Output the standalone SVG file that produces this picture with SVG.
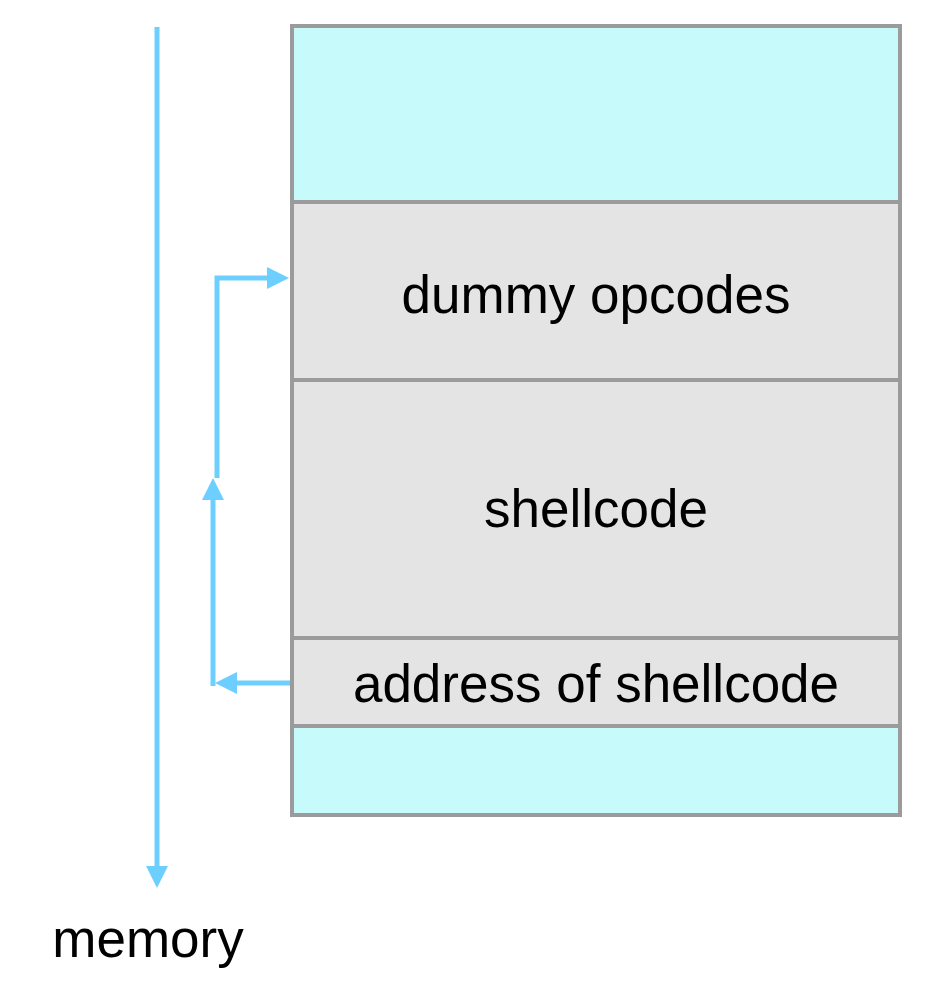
<svg xmlns="http://www.w3.org/2000/svg" width="926" height="1004" viewBox="0 0 926 1004">
  <style>
    .cell { stroke: #9b9b9b; stroke-width: 4; }
    .cyan { fill: #c7fafa; }
    .grey { fill: #e4e4e4; }
    .lbl { font-family: "Liberation Sans", Arial, sans-serif; font-size: 53px; fill: #000; }
    .conn { fill: none; stroke: #6ccfff; stroke-width: 5; }
  </style>
  <defs>
    <marker id="head" markerUnits="userSpaceOnUse" markerWidth="22" markerHeight="22" refX="0" refY="11" orient="auto">
      <path d="M0,0 L22,11 L0,22 z" fill="#6ccfff"/>
    </marker>
  </defs>
  <rect x="0" y="0" width="926" height="1004" fill="#ffffff"/>
  <g id="stack">
    <g id="top-region">
      <rect class="cell cyan" x="292" y="26" width="608" height="176"/>
    </g>
    <g id="dummy-opcodes">
      <rect class="cell grey" x="292" y="202" width="608" height="178"/>
      <text class="lbl" x="596" y="313" text-anchor="middle">dummy opcodes</text>
    </g>
    <g id="shellcode">
      <rect class="cell grey" x="292" y="380" width="608" height="258"/>
      <text class="lbl" x="596" y="527" text-anchor="middle">shellcode</text>
    </g>
    <g id="address">
      <rect class="cell grey" x="292" y="638" width="608" height="88"/>
      <text class="lbl" x="596" y="702" text-anchor="middle">address of shellcode</text>
    </g>
    <g id="bottom-region">
      <rect class="cell cyan" x="292" y="726" width="608" height="89"/>
    </g>
  </g>
  <g id="memory-label">
    <text class="lbl" x="148" y="957" text-anchor="middle">memory</text>
  </g>
  <g id="connectors">
    <path class="conn" d="M157,27 V866" marker-end="url(#head)"/>
    <path class="conn" d="M290,683 H237" marker-end="url(#head)"/>
    <path class="conn" d="M213,686 V500" marker-end="url(#head)"/>
    <path class="conn" d="M217,478 V278 H267" marker-end="url(#head)"/>
  </g>
</svg>
